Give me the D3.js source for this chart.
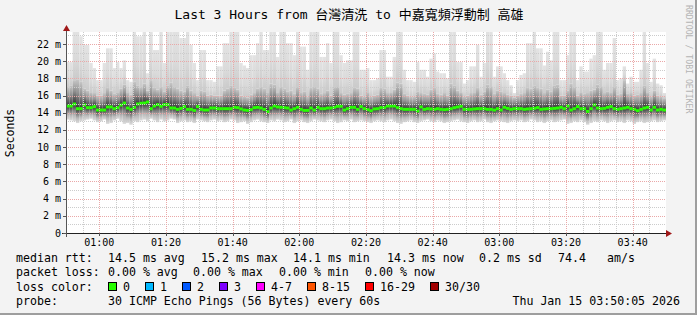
<!DOCTYPE html>
<html>
<head>
<meta charset="utf-8">
<script src="https://cdn.jsdelivr.net/npm/d3@7"></script>
<style>
  body { margin: 0; background: #f3f3f3; }
  svg { display: block; }
  text { font-family: "DejaVu Sans Mono", "Noto Sans CJK TC", monospace; fill: #000; }
</style>
</head>
<body>
<div id="chart"></div>
<script>
// one column per minute, starting 00:50
const startTime = new Date(Date.UTC(2026, 0, 15, 0, 50));
const endTime = new Date(Date.UTC(2026, 0, 15, 3, 50));

// median rtt (ms)
const medianMs = [
  14.78,14.78,15.02,14.47,14.47,14.90,14.59,14.59,14.71,14.32,14.32,14.32,14.67,14.67,14.47,
  14.59,14.90,15.13,14.55,14.40,14.63,15.02,15.10,15.13,15.25,14.47,14.78,14.94,14.75,14.94,
  14.94,14.55,14.55,14.40,14.51,14.71,14.40,14.40,14.28,14.71,14.40,14.32,14.32,14.55,14.55,
  14.47,14.47,14.47,14.47,14.47,14.63,14.59,14.44,14.32,14.28,14.36,14.59,14.63,14.55,14.40,
  14.12,14.55,14.78,14.67,14.63,14.59,14.55,14.32,14.47,14.63,14.40,14.28,14.28,14.55,14.32,
  14.63,14.47,14.47,14.55,14.55,14.63,14.75,14.75,14.32,14.47,14.63,14.63,14.40,14.71,14.47,
  14.36,14.24,14.44,14.47,14.59,14.59,14.78,14.78,14.78,14.59,14.47,14.40,14.40,14.40,14.40,
  14.20,14.67,14.40,14.47,14.44,14.40,14.47,14.40,14.36,14.40,14.47,14.59,14.67,14.75,14.40,
  14.40,14.40,14.44,14.47,14.47,14.47,14.40,14.40,14.32,14.47,14.32,14.63,14.51,14.40,14.47,
  14.47,14.47,14.40,14.44,14.47,14.51,14.59,14.40,14.44,14.47,14.47,14.51,14.55,14.63,14.47,
  14.78,14.32,14.47,14.71,14.47,14.47,14.16,14.47,14.90,14.55,14.47,14.51,14.63,14.71,14.47,
  14.40,14.47,14.55,14.63,14.47,14.40,14.24,14.40,14.55,14.63,14.32,14.63,14.32,14.40,14.32
];

// highest ping of the minute (ms), values above the top are cut off
const smokeMaxMs = [
  19.9,19.9,24,24,22.9,21.9,21.9,19.8,19.2,17.8,17.8,19.8,21.5,21.5,19.2,
  19.9,19.2,20.1,17.8,17.6,24,22.9,22.9,24,18.6,24,21.3,21.3,24,19.8,
  24,24,24,24,22.7,22.7,24,21.9,19.8,17.8,21.3,21.3,17.8,17.8,17.6,
  19.4,19.4,22.1,22.1,24,24,24,19.8,19.5,19.2,20.7,20.7,22.1,24,21.3,
  21.3,24,24,20.5,24,24,22.1,22.1,20.7,24,21.7,21.7,19.0,24,24,
  24,20.5,20.5,22.1,19.8,24,24,20.7,19.8,20.1,20.1,24,24,19.0,19.0,
  19.2,17.8,17.8,18.0,21.3,21.3,18.2,18.2,20.5,24,24,19.0,17.8,17.8,17.6,
  19.9,19.0,19.0,18.2,20.3,20.9,18.8,18.6,18.6,18.0,24,24,19.9,19.9,17.4,
  17.8,19.4,19.4,21.9,18.2,19.8,24,24,18.2,19.4,19.4,18.6,17.8,17.2,16.3,
  17.8,18.4,18.6,22.1,22.1,24,21.5,21.5,19.5,21.1,20.1,24,24,17.8,17.8,
  20.7,24,24,17.8,19.4,18.8,18.8,20.3,20.7,24,24,19.0,19.8,19.8,22.7,
  17.8,18.0,19.4,17.4,18.2,17.6,17.6,19.0,24,19.8,17.6,20.3,17.4,17.2,16.3
];

// top of the dense part of the smoke (ms)
const smokeHiMs = [
  17.0,17.2,17.8,17.9,17.6,16.8,16.6,16.4,16.3,16.0,16.0,16.3,16.9,16.6,16.2,
  16.4,16.8,17.3,16.4,16.1,17.6,17.2,17.0,17.4,16.6,17.8,16.9,16.7,17.0,16.5,
  17.2,17.5,17.0,16.8,16.6,16.5,17.2,16.6,16.3,16.0,16.6,16.5,16.0,16.1,16.0,
  16.0,16.0,16.6,16.8,17.2,16.9,16.7,16.0,15.9,15.8,16.1,16.3,16.8,17.0,16.8,
  16.4,17.4,17.3,16.4,17.0,16.8,16.5,16.6,16.2,17.0,16.4,16.5,15.9,16.9,17.0,
  16.8,16.2,16.3,16.6,16.0,17.0,17.1,16.3,16.1,16.2,16.3,16.9,16.8,16.0,15.9,
  16.4,15.9,16.0,16.1,16.9,16.8,16.3,16.4,16.7,17.5,17.4,16.2,16.0,15.9,15.9,
  16.5,16.3,16.2,16.1,16.7,16.9,16.2,16.1,16.3,16.0,17.4,17.2,16.6,16.4,15.9,
  16.0,16.3,16.4,16.9,16.1,16.5,17.3,17.1,16.2,16.6,16.5,16.3,16.1,16.0,15.8,
  16.0,16.2,16.3,16.9,16.8,17.2,16.9,16.8,16.3,16.7,16.5,17.2,17.3,16.0,16.0,
  16.6,17.4,17.0,16.0,16.4,16.2,16.3,16.6,16.7,17.3,17.1,16.3,16.5,16.4,17.0,
  16.1,16.2,17.8,16.2,16.3,16.0,16.1,16.3,17.2,16.4,15.9,16.6,16.0,15.9,15.7
];

// lowest ping of the minute (ms)
const smokeMinMs = [
  13.2,13.1,13.0,12.8,13.0,13.1,13.2,13.3,13.1,12.9,13.0,13.2,12.7,12.8,13.1,
  13.3,13.0,12.7,12.8,12.6,13.0,12.9,13.1,13.2,13.0,13.3,13.1,12.9,13.2,13.0,
  13.1,13.3,13.2,12.8,13.0,13.1,12.9,13.0,12.8,13.2,13.1,13.0,12.9,13.1,13.2,
  13.0,13.1,12.9,13.0,13.2,13.1,12.8,12.9,13.0,12.7,12.9,13.1,13.2,13.0,12.9,
  12.8,13.1,13.0,13.2,13.1,12.9,13.0,13.2,12.8,13.0,13.1,12.9,12.8,13.0,13.2,
  13.1,13.0,12.9,13.1,13.2,13.0,12.8,12.9,13.1,13.0,13.2,12.9,13.0,13.1,13.0,
  12.9,12.8,13.0,13.1,13.0,12.9,13.1,13.2,13.0,12.8,12.7,12.9,13.0,13.1,12.9,
  12.8,13.0,13.1,13.2,13.0,12.9,13.1,13.0,12.8,12.9,13.0,13.1,13.2,13.0,12.9,
  12.8,13.0,13.1,12.9,13.0,13.2,12.9,12.8,13.0,13.1,13.0,12.9,12.8,13.0,13.1,
  13.0,13.1,12.9,13.0,13.2,13.1,12.9,13.0,12.8,13.0,13.1,12.9,13.0,13.1,13.2,
  12.7,12.8,13.0,12.9,13.1,12.9,12.6,12.8,13.0,12.9,13.1,13.0,12.8,13.0,13.1,
  12.9,13.0,12.8,13.1,13.0,12.7,12.9,13.0,12.8,12.9,13.0,13.1,12.9,13.0,13.1
];

const yTicks = [0, 2, 4, 6, 8, 10, 12, 14, 16, 18, 20, 22];
const xTickLabels = ['01:00', '01:20', '01:40', '02:00', '02:20', '02:40', '03:00', '03:20', '03:40'];

const rttStats = ['14.5 ms avg', '15.2 ms max', '14.1 ms min', '14.3 ms now', '0.2 ms sd', '74.4', 'am/s'];
const lossStats = ['0.00 % avg', '0.00 % max', '0.00 % min', '0.00 % now'];
const lossLabels = ['0', '1', '2', '3', '4-7', '8-15', '16-29', '30/30'];
const lossColors = ['#26ff00', '#00b8ff', '#0059ff', '#7e00ff', '#ff00ff', '#ff5500', '#ff0000', '#a10000'];

const W = 697, H = 315;
const pLeft = 66, pRight = 666, pTop = 32, pBottom = 233;

const svg = d3.select('#chart').append('svg')
  .attr('width', W)
  .attr('height', H);

// frame
svg.append('rect').attr('width', W).attr('height', H).attr('fill', '#f3f3f3');
svg.append('rect').attr('x', 0).attr('y', H - 2).attr('width', W).attr('height', 2).attr('fill', '#9e9e9e');
svg.append('rect').attr('x', W - 2).attr('y', 0).attr('width', 2).attr('height', H).attr('fill', '#9e9e9e');

const x = d3.scaleUtc().domain([startTime, endTime]).range([pLeft, pRight]);
const y = d3.scaleLinear().domain([0, 23.4]).range([pBottom, pTop]);

const times = d3.utcMinute.range(startTime, endTime);
const colW = x(times[1]) - x(times[0]);

const defs = svg.append('defs');
defs.append('clipPath').attr('id', 'plotClip')
  .append('rect').attr('x', pLeft).attr('y', pTop).attr('width', pRight - pLeft).attr('height', pBottom - pTop);

function gradient(id, stops) {
  const g = defs.append('linearGradient').attr('id', id)
    .attr('x1', 0).attr('y1', 0).attr('x2', 0).attr('y2', 1);
  stops.forEach(s => g.append('stop').attr('offset', s[0]).attr('stop-color', s[1]));
}
gradient('outerGrad', [[0, '#e3e3e3'], [0.6, '#dadada'], [1, '#cacaca']]);
gradient('upperGrad', [[0, '#c6c6c6'], [0.45, '#939393'], [1, '#333333']]);
gradient('lowerGrad', [[0, '#333333'], [0.3, '#747474'], [0.65, '#b8b8b8'], [1, '#dcdcdc']]);

// dotted grid: 1px on, 1px off
function dots(id, color, horizontal) {
  const p = defs.append('pattern').attr('id', id).attr('patternUnits', 'userSpaceOnUse')
    .attr('width', horizontal ? 2 : 1).attr('height', horizontal ? 1 : 2);
  p.append('rect').attr('width', 1).attr('height', 1).attr('fill', color);
}
const minorColor = '#cccccc', majorColor = '#eaa8a8';
dots('dotHmin', minorColor, true);
dots('dotVmin', minorColor, false);
dots('dotHmaj', majorColor, true);
dots('dotVmaj', majorColor, false);

svg.append('rect').attr('x', pLeft).attr('y', pTop).attr('width', pRight - pLeft).attr('height', pBottom - pTop).attr('fill', '#fff');

const plot = svg.append('g').attr('clip-path', 'url(#plotClip)');

// smoke
plot.selectAll('rect.outer').data(times).enter().append('rect')
  .attr('x', d => x(d)).attr('width', colW + 0.02)
  .attr('y', (d, i) => y(smokeMaxMs[i]))
  .attr('height', (d, i) => Math.max(0, y(smokeHiMs[i]) - y(smokeMaxMs[i])))
  .attr('fill', 'url(#outerGrad)');

plot.selectAll('rect.upper').data(times).enter().append('rect')
  .attr('x', d => x(d)).attr('width', colW + 0.02)
  .attr('y', (d, i) => y(smokeHiMs[i]))
  .attr('height', (d, i) => y(medianMs[i]) - y(smokeHiMs[i]))
  .attr('fill', 'url(#upperGrad)');

plot.selectAll('rect.lower').data(times).enter().append('rect')
  .attr('x', d => x(d)).attr('width', colW + 0.02)
  .attr('y', (d, i) => y(medianMs[i]))
  .attr('height', (d, i) => y(smokeMinMs[i]) - y(medianMs[i]))
  .attr('fill', 'url(#lowerGrad)');

// grid
const grid = svg.append('g').attr('shape-rendering', 'crispEdges');
const minorY = d3.range(1, 24).filter(v => v % 2 !== 0);
const majorY = yTicks.filter(v => v > 0);
const minorX = d3.utcMinute.every(5).range(startTime, endTime).filter(t => t.getUTCMinutes() % 20 !== 0);
const majorX = d3.utcMinute.every(20).range(startTime, endTime);

grid.selectAll('rect.hmin').data(minorY).enter().append('rect')
  .attr('x', pLeft + 1).attr('width', pRight - pLeft - 1).attr('y', d => Math.round(y(d))).attr('height', 1)
  .attr('fill', 'url(#dotHmin)');
grid.selectAll('rect.vmin').data(minorX).enter().append('rect')
  .attr('y', pTop).attr('height', pBottom - pTop).attr('x', d => Math.round(x(d))).attr('width', 1)
  .attr('fill', 'url(#dotVmin)');
grid.selectAll('rect.hmaj').data(majorY).enter().append('rect')
  .attr('x', pLeft + 1).attr('width', pRight - pLeft - 1).attr('y', d => Math.round(y(d))).attr('height', 1)
  .attr('fill', 'url(#dotHmaj)');
grid.selectAll('rect.vmaj').data(majorX).enter().append('rect')
  .attr('y', pTop).attr('height', pBottom - pTop).attr('x', d => Math.round(x(d))).attr('width', 1)
  .attr('fill', 'url(#dotVmaj)');

// median
plot.selectAll('rect.median').data(times).enter().append('rect')
  .attr('x', d => x(d)).attr('width', colW + 0.02)
  .attr('y', (d, i) => y(medianMs[i]) - 1.5)
  .attr('height', 3)
  .attr('fill', lossColors[0]);

// axes
const axes = svg.append('g').attr('shape-rendering', 'crispEdges');
axes.append('line').attr('x1', pLeft - 4).attr('x2', pRight + 1).attr('y1', pBottom + 0.5).attr('y2', pBottom + 0.5).attr('stroke', '#222');
axes.append('line').attr('x1', pLeft + 0.5).attr('x2', pLeft + 0.5).attr('y1', pBottom + 4).attr('y2', pTop - 2).attr('stroke', '#555');
svg.append('path').attr('d', `M${pRight},${pBottom - 3}L${pRight + 6},${pBottom + 0.5}L${pRight},${pBottom + 4}Z`).attr('fill', '#a01818');
svg.append('path').attr('d', `M${pLeft - 3},${pTop - 1}L${pLeft + 0.5},${pTop - 7}L${pLeft + 4},${pTop - 1}Z`).attr('fill', '#a01818');

axes.selectAll('line.yt').data(yTicks).enter().append('line')
  .attr('x1', pLeft - 3).attr('x2', pLeft).attr('y1', d => Math.round(y(d)) + 0.5).attr('y2', d => Math.round(y(d)) + 0.5)
  .attr('stroke', '#555');
axes.selectAll('line.xt').data(majorX).enter().append('line')
  .attr('x1', d => Math.round(x(d)) + 0.5).attr('x2', d => Math.round(x(d)) + 0.5).attr('y1', pBottom).attr('y2', pBottom + 3)
  .attr('stroke', '#555');

svg.selectAll('text.ylab').data(yTicks).enter().append('text')
  .attr('x', 61).attr('y', d => y(d) + 3.5)
  .attr('text-anchor', 'end').attr('font-size', 10)
  .text(d => d === 0 ? '0' : d + ' m');

svg.selectAll('text.xlab').data(majorX).enter().append('text')
  .attr('x', d => x(d)).attr('y', pBottom + 13)
  .attr('text-anchor', 'middle').attr('font-size', 10)
  .text((d, i) => xTickLabels[i]);

// titles
svg.append('text').attr('x', 349).attr('y', 19).attr('text-anchor', 'middle').attr('font-size', 13)
  .text('Last 3 Hours from 台灣清洗 to 中嘉寬頻浮動制 高雄');
svg.append('text').attr('transform', 'translate(14,133) rotate(-90)').attr('text-anchor', 'middle').attr('font-size', 11.5)
  .text('Seconds');
svg.append('text').attr('transform', 'translate(686,5) rotate(90)').attr('font-size', 8.2).style('fill', '#b4b4b4')
  .text('RRDTOOL / TOBI OETIKER');

// legend
const legend = svg.append('g').attr('font-size', 11.6);
const row = [262, 276, 291, 305];
legend.append('text').attr('x', 16).attr('y', row[0]).text('median rtt:');
const rttX = [108, 201, 293, 387, 479, 558, 607];
rttStats.forEach((s, i) => legend.append('text').attr('x', rttX[i]).attr('y', row[0]).text(s));

legend.append('text').attr('x', 16).attr('y', row[1]).text('packet loss:');
const lossX = [108, 193, 279, 365];
lossStats.forEach((s, i) => legend.append('text').attr('x', lossX[i]).attr('y', row[1]).text(s));

legend.append('text').attr('x', 16).attr('y', row[2]).text('loss color:');
const boxX = [108, 145, 182, 219, 256, 307, 365, 430];
lossLabels.forEach((s, i) => {
  legend.append('rect').attr('x', boxX[i] + 0.5).attr('y', row[2] - 8.5).attr('width', 8).attr('height', 8)
    .attr('fill', lossColors[i]).attr('stroke', '#000').attr('stroke-width', 1);
  legend.append('text').attr('x', boxX[i] + 15).attr('y', row[2]).text(s);
});

legend.append('text').attr('x', 16).attr('y', row[3]).text('probe:');
legend.append('text').attr('x', 108).attr('y', row[3]).text('30 ICMP Echo Pings (56 Bytes) every 60s');
legend.append('text').attr('x', 680).attr('y', row[3]).attr('text-anchor', 'end').text('Thu Jan 15 03:50:05 2026');
</script>
</body>
</html>
